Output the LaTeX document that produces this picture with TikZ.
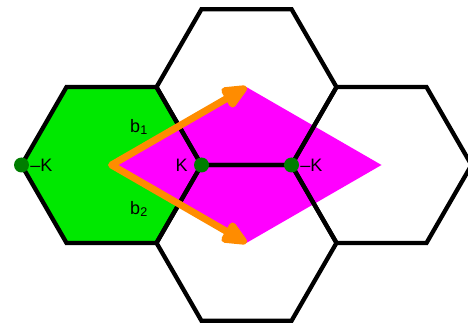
\documentclass[tikz,border=0pt]{standalone}
\usepackage{fontspec}
\setmainfont{Liberation Sans}
\usetikzlibrary{positioning,arrows.meta}
\definecolor{cellgreen}{RGB}{0,232,0}
\definecolor{cellmagenta}{RGB}{255,0,255}
\definecolor{vecorange}{RGB}{255,140,0}
\definecolor{dotgreen}{RGB}{0,125,0}
\tikzset{
  hexcell/.style={draw=black,line width=4.3pt},
  kdot/.style={circle,fill=dotgreen,inner sep=0pt,minimum size=15pt},
  klabel/.style={font=\fontsize{18}{21}\selectfont,inner sep=1pt},
  recvec/.style={draw=vecorange,line width=7pt,line join=round,
    {Triangle[length=30pt,width=24pt,round]}-{Triangle[length=30pt,width=24pt,round]}}
}

\begin{document}
\begin{tikzpicture}[x=1pt,y=1pt]
  \useasboundingbox (0,0) rectangle (468,324);
  \coordinate (g) at (111.5,159);
  \coordinate (t) at (246.5,236.9);
  \coordinate (b) at (246.5,81.1);
  \coordinate (h) at (381.5,159);
  \fill[cellgreen] (g) +(0:90) -- +(60:90) -- +(120:90) -- +(180:90) -- +(240:90) -- +(300:90) -- cycle;
  \fill[cellmagenta] (g) -- (t) -- (h) -- (b) -- cycle;
  \foreach \c in {g,t,b,h}
    \draw[hexcell] (\c) +(0:90) -- +(60:90) -- +(120:90) -- +(180:90) -- +(240:90) -- +(300:90) -- cycle;
  \draw[recvec] (t) -- (g) -- (b);
  \node[kdot] (mk1) at (21.5,159) {};
  \node[kdot] (k) at (201.5,159) {};
  \node[kdot] (mk2) at (291.5,159) {};
  \node[klabel,right=0pt of mk1] (mk1lab) {–K};
  \node[klabel,left=5pt of k] (klab) {K};
  \node[klabel,right=0pt of mk2] (mk2lab) {–K};
  \node[klabel] (b1lab) at (139,197) {b\textsubscript{1}};
  \node[klabel] (b2lab) at (139,115) {b\textsubscript{2}};
\end{tikzpicture}
\end{document}
